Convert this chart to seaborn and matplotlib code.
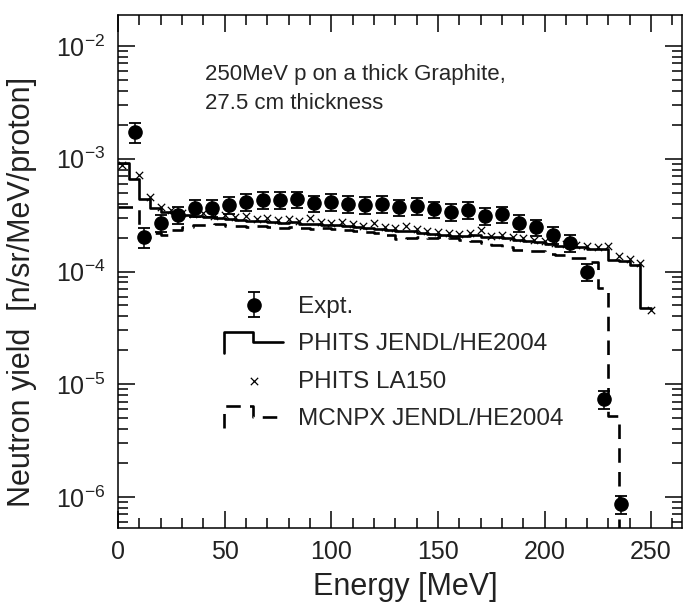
# Neutron yield de grafite espessa, 250 MeV p - recriação.
import numpy as np
import matplotlib
matplotlib.use("Agg")
import matplotlib.pyplot as plt
import seaborn as sns
from matplotlib.lines import Line2D
from matplotlib.legend_handler import HandlerLine2D
from matplotlib.ticker import MultipleLocator, LogLocator, LogFormatterMathtext, NullFormatter

# %% dados
# Expt. (pontos com barra de erro)
expt_energy = [8, 12, 20, 28, 36, 44, 52, 60, 68, 76, 84, 92, 100, 108, 116,
               124, 132, 140, 148, 156, 164, 172, 180, 188, 196, 204, 212,
               220, 228, 236]
expt_yield = [1.73e-3, 2.02e-4, 2.69e-4, 3.17e-4, 3.66e-4, 3.66e-4, 3.89e-4,
              4.13e-4, 4.30e-4, 4.30e-4, 4.37e-4, 4.03e-4, 4.13e-4, 4.00e-4,
              3.89e-4, 3.97e-4, 3.72e-4, 3.81e-4, 3.57e-4, 3.36e-4, 3.50e-4,
              3.11e-4, 3.22e-4, 2.71e-4, 2.47e-4, 2.11e-4, 1.80e-4, 9.96e-5,
              7.40e-6, 8.67e-7]
expt_relerr = [0.20, 0.20, 0.17, 0.17, 0.17, 0.17, 0.17, 0.17, 0.17, 0.17,
               0.17, 0.17, 0.17, 0.17, 0.17, 0.17, 0.17, 0.17, 0.17, 0.17,
               0.17, 0.17, 0.17, 0.17, 0.17, 0.17, 0.17, 0.18, 0.18, 0.18]

# PHITS JENDL/HE2004 (histograma, bins de 5 MeV de 0 a 250)
phits_edges = list(range(0, 255, 5))
phits_yield = [9.17e-4, 6.61e-4, 4.40e-4, 3.66e-4, 3.37e-4, 3.30e-4, 3.17e-4,
               3.11e-4, 3.04e-4, 2.98e-4, 2.92e-4, 2.86e-4, 2.81e-4, 2.81e-4,
               2.75e-4, 2.69e-4, 2.75e-4, 2.64e-4, 2.64e-4, 2.58e-4, 2.58e-4,
               2.53e-4, 2.48e-4, 2.43e-4, 2.38e-4, 2.33e-4, 2.29e-4, 2.29e-4,
               2.20e-4, 2.15e-4, 2.11e-4, 2.06e-4, 2.06e-4, 2.11e-4, 2.02e-4,
               2.02e-4, 1.98e-4, 1.90e-4, 1.86e-4, 1.83e-4, 1.75e-4, 1.68e-4,
               1.65e-4, 1.65e-4, 1.58e-4, 1.58e-4, 1.27e-4, 1.24e-4, 1.14e-4,
               4.72e-5]

# PHITS LA150 (marcadores x)
la150_energy = [2, 10, 15, 20, 25, 30, 35, 40, 45, 50, 55, 60, 65, 70, 75,
                80, 85, 90, 95, 100, 105, 110, 115, 120, 125, 130, 135, 140,
                145, 150, 155, 160, 165, 170, 175, 180, 185, 190, 195, 200,
                205, 210, 215, 220, 225, 230, 235, 240, 245, 250]
la150_yield = [8.8e-4, 7.18e-4, 4.58e-4, 3.73e-4, 3.50e-4, 3.30e-4, 3.24e-4,
               3.30e-4, 3.11e-4, 3.17e-4, 3.04e-4, 3.11e-4, 2.92e-4, 2.98e-4,
               2.86e-4, 2.92e-4, 2.81e-4, 2.98e-4, 2.75e-4, 2.69e-4, 2.75e-4,
               2.64e-4, 2.53e-4, 2.69e-4, 2.48e-4, 2.43e-4, 2.53e-4, 2.38e-4,
               2.29e-4, 2.24e-4, 2.20e-4, 2.15e-4, 2.20e-4, 2.33e-4, 2.06e-4,
               2.11e-4, 2.02e-4, 1.98e-4, 1.90e-4, 1.86e-4, 1.79e-4, 1.75e-4,
               1.72e-4, 1.68e-4, 1.65e-4, 1.68e-4, 1.37e-4, 1.29e-4, 1.19e-4,
               4.52e-5]

# MCNPX JENDL/HE2004 (histograma, bins de 5 MeV de 0 a 240; ultimo bin vazio)
mcnpx_edges = list(range(0, 245, 5))
mcnpx_yield = [3.73e-4, 3.73e-4, 2.02e-4, 2.20e-4, 2.11e-4, 2.33e-4, 2.48e-4,
               2.58e-4, 2.58e-4, 2.64e-4, 2.53e-4, 2.53e-4, 2.48e-4, 2.53e-4,
               2.48e-4, 2.43e-4, 2.48e-4, 2.43e-4, 2.38e-4, 2.43e-4, 2.38e-4,
               2.33e-4, 2.29e-4, 2.24e-4, 2.20e-4, 2.11e-4, 1.94e-4, 1.98e-4,
               2.02e-4, 1.98e-4, 2.02e-4, 1.98e-4, 1.90e-4, 1.86e-4, 1.79e-4,
               1.72e-4, 1.65e-4, 1.55e-4, 1.52e-4, 1.52e-4, 1.43e-4, 1.40e-4,
               1.32e-4, 1.32e-4, 1.21e-4, 7.14e-5, 5.23e-6, 1e-9]

labels = ["Expt.", "PHITS JENDL/HE2004", "PHITS LA150", "MCNPX JENDL/HE2004"]

# %% estilo
sns.set_style("ticks")
plt.rcParams['font.family'] = ['Liberation Sans', 'DejaVu Sans']
plt.rcParams['mathtext.fontset'] = 'custom'
plt.rcParams['mathtext.rm'] = 'Liberation Sans'
plt.rcParams['mathtext.it'] = 'Liberation Sans:italic'
plt.rcParams['mathtext.default'] = 'regular'


class StepHandler(HandlerLine2D):
    # desenha o símbolo da legenda em forma de degrau
    def create_artists(self, legend, orig_handle, xdescent, ydescent,
                       width, height, fontsize, trans):
        xs = np.array([0, 0, 0.49, 0.49, 1.0]) * width - xdescent
        ys = np.array([-0.15, 1.1, 1.1, 0.5, 0.5]) * height - ydescent
        line = Line2D(xs, ys)
        self.update_prop(line, orig_handle, legend)
        line.set_marker('None')
        line.set_drawstyle('default')
        line.set_transform(trans)
        return [line]


fig = plt.figure(figsize=(6.83, 6.08), dpi=100)
ax = fig.add_axes([0.1728, 0.1316, 0.8258, 0.8437])

# histogramas (steps-post: repete o último valor na borda final)
sns.lineplot(x=phits_edges, y=phits_yield + [phits_yield[-1]], ax=ax,
             drawstyle='steps-post', color='black', lw=1.9,
             estimator=None, sort=False)
phits_line = ax.lines[-1]

sns.lineplot(x=mcnpx_edges, y=mcnpx_yield + [mcnpx_yield[-1]], ax=ax,
             drawstyle='steps-post', color='black', lw=1.9,
             linestyle=(0, (5.5, 3.5)), estimator=None, sort=False)
mcnpx_line = ax.lines[-1]

sns.scatterplot(x=la150_energy, y=la150_yield, ax=ax, marker='x',
                color='black', s=28, linewidth=0.9, zorder=3)
la150_coll = ax.collections[-1]

expt_err = [v * r for v, r in zip(expt_yield, expt_relerr)]
expt = ax.errorbar(expt_energy, expt_yield, yerr=expt_err, fmt='o',
                   color='black', ms=9.5, capsize=4.5, elinewidth=1.1,
                   capthick=1.3, zorder=4)

ax.set_yscale('log')
ax.set_xlim(0, 264.5)
ax.set_ylim(5.31e-7, 1.884e-2)

ax.xaxis.set_major_locator(MultipleLocator(50))
ax.xaxis.set_minor_locator(MultipleLocator(10))
ax.yaxis.set_major_locator(LogLocator(base=10, numticks=20))
ax.yaxis.set_minor_locator(LogLocator(base=10, subs=np.arange(2, 10), numticks=20))
ax.yaxis.set_major_formatter(LogFormatterMathtext())
ax.yaxis.set_minor_formatter(NullFormatter())

ax.tick_params(which='both', direction='in', top=True, right=True,
               colors='black', labelcolor='#222222', width=1.1, labelsize=18)
ax.tick_params(which='major', length=12, pad=9)
ax.tick_params(which='minor', length=7)
for sp in ax.spines.values():
    sp.set_linewidth(1.1)
    sp.set_color('black')

ax.set_xlabel("Energy [MeV]", fontsize=22, color='#222222')
ax.set_ylabel("Neutron yield  [n/sr/MeV/proton]", fontsize=22, color='#222222')
ax.xaxis.set_label_coords(0.51, -0.085)
ax.yaxis.set_label_coords(-0.143, 0.46)

ax.text(0.154, 0.905, "250MeV p on a thick Graphite,\n27.5 cm thickness",
        transform=ax.transAxes, fontsize=16, va='top', ha='left',
        linespacing=1.5)

ax.legend([expt, phits_line, la150_coll, mcnpx_line], labels,
          handler_map={phits_line: StepHandler(), mcnpx_line: StepHandler()},
          loc='upper left', bbox_to_anchor=(0.188, 0.452), frameon=False,
          fontsize=17.5, handlelength=2.43, handletextpad=0.62,
          labelspacing=0.63, borderpad=0, borderaxespad=0)

plt.savefig("out.png", dpi=100)
